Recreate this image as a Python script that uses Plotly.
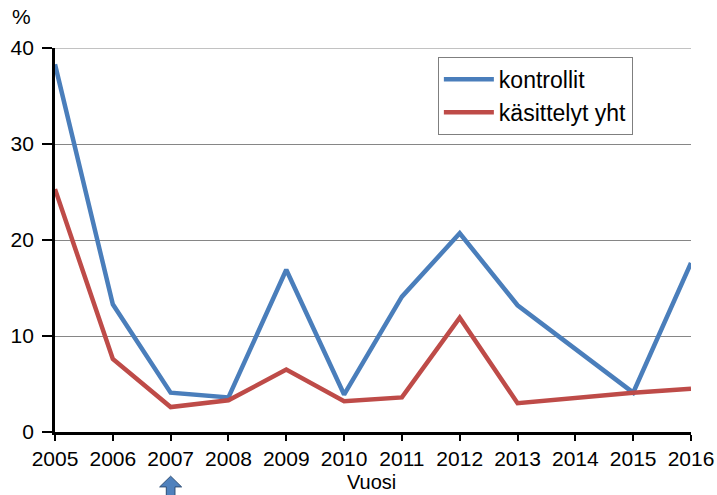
import plotly.graph_objects as go

years = [2005, 2006, 2007, 2008, 2009, 2010, 2011, 2012, 2013, 2014, 2015, 2016]
kontrollit = [38.3, 13.3, 4.1, 3.6, 16.9, 3.9, 14.1, 20.7, 13.2, 8.7, 4.1, 17.6]
kasittelyt = [25.3, 7.6, 2.6, 3.3, 6.5, 3.2, 3.6, 11.9, 3.0, 3.6, 4.1, 4.5]
y_ticks = [0, 10, 20, 30, 40]
arrow_year = 2007

FONT = "Liberation Sans, Arial, sans-serif"
GRID = "#868686"

fig = go.Figure()
fig.add_trace(go.Scatter(x=years, y=kontrollit, mode="lines", name="kontrollit",
                         line=dict(color="#4A7EBB", width=4.5)))
fig.add_trace(go.Scatter(x=years, y=kasittelyt, mode="lines", name="käsittelyt yht",
                         line=dict(color="#BE4B48", width=4.5)))

# top gridline (at the range edge)
fig.add_shape(type="line", xref="paper", yref="y", x0=0, x1=1,
              y0=y_ticks[-1], y1=y_ticks[-1], line=dict(color=GRID, width=1.2),
              layer="below")

# block arrow below the 2007 label
hw, sw = 0.19, 0.075
yt, yb, ye = -0.115, -0.143, -0.17
path = (f"M {arrow_year},{yt} L {arrow_year+hw},{yb} L {arrow_year+sw},{yb} "
        f"L {arrow_year+sw},{ye} L {arrow_year-sw},{ye} L {arrow_year-sw},{yb} "
        f"L {arrow_year-hw},{yb} Z")
fig.add_shape(type="path", path=path, xref="x", yref="paper",
              fillcolor="#4F81BD", line=dict(color="#2C4D75", width=1))

fig.add_annotation(text="%", xref="paper", yref="paper", x=-0.07, y=1.048,
                   xanchor="left", yanchor="bottom", showarrow=False,
                   font=dict(family=FONT, size=21, color="black"))

# x-axis title
fig.add_annotation(text="Vuosi", xref="paper", yref="paper", x=0.498, y=-0.129,
                   xanchor="center", yanchor="middle", showarrow=False,
                   font=dict(family=FONT, size=20, color="black"))

fig.update_layout(
    width=717, height=495,
    margin=dict(l=55, r=26, t=48, b=63),
    paper_bgcolor="white", plot_bgcolor="white",
    font=dict(family=FONT, size=21, color="black"),
    showlegend=True,
    legend=dict(x=0.602, y=0.977, xanchor="left", yanchor="top",
                bordercolor="#7F7F7F", borderwidth=1, bgcolor="white",
                font=dict(family=FONT, size=23, color="black"),
                itemwidth=50, tracegroupgap=0),
    xaxis=dict(range=[years[0], years[-1]], tickmode="array", tickvals=years,
               ticktext=[str(y) for y in years], showgrid=False, zeroline=False,
               showline=True, linecolor="black", linewidth=2.8, automargin=False,
               ticks="outside", ticklen=6, tickwidth=1.5, tickcolor="black",
               tickfont=dict(size=21)),
    yaxis=dict(range=[0, 40], tickmode="array", tickvals=y_ticks,
               showgrid=True, gridcolor=GRID, gridwidth=1.2, zeroline=False,
               showline=True, linecolor="black", linewidth=2.8, automargin=False,
               ticks="outside", ticklen=10, tickwidth=1.5, tickcolor="black",
               tickfont=dict(size=21), ticklabelstandoff=4),
)

fig.write_html("out.html")
